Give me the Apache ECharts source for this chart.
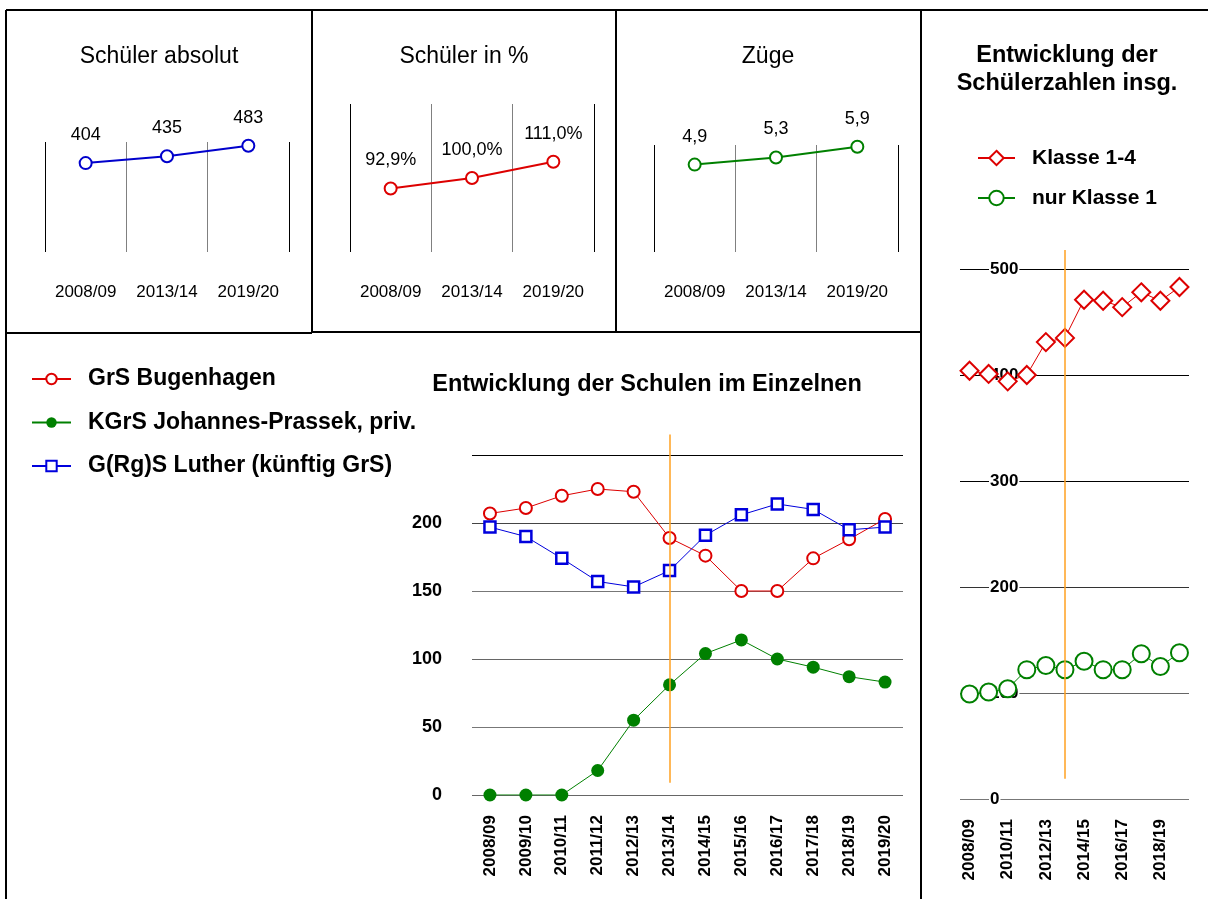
<!DOCTYPE html>
<html>
<head>
<meta charset="utf-8">
<script src="https://cdn.jsdelivr.net/npm/echarts@6/dist/echarts.min.js"></script>
<style>
html,body{margin:0;padding:0;background:#fff;}
#chart{width:1208px;height:899px;}
</style>
</head>
<body>
<div id="chart"></div>
<script>
// ---- data ----
const summaryYears = ['2008/09', '2013/14', '2019/20'];
const schuelerAbsolut = [404, 435, 483];
const schuelerProzent = [92.9, 100.0, 111.0];
const zuege = [4.9, 5.3, 5.9];

const years = ['2008/09','2009/10','2010/11','2011/12','2012/13','2013/14','2014/15','2015/16','2016/17','2017/18','2018/19','2019/20'];
const bugenhagen = [207, 211, 220, 225, 223, 189, 176, 150, 150, 174, 188, 203];
const prassek = [0, 0, 0, 18, 55, 81, 104, 114, 100, 94, 87, 83];
const luther = [197, 190, 174, 157, 153, 165, 191, 206, 214, 210, 195, 197];

const klasse14 = [404, 401, 394, 400, 431, 435, 471, 470, 464, 478, 470, 483];
const klasse1 = [99, 101, 104, 122, 126, 122, 130, 122, 122, 137, 125, 138];

const markerYear = '2013/14';
const markerSchulen = [9, 265];
const markerGesamt = [19, 518];

const seriesNames = ['GrS Bugenhagen', 'KGrS Johannes-Prassek, priv.', 'G(Rg)S Luther (künftig GrS)'];
const totalNames = ['Klasse 1-4', 'nur Klasse 1'];

// ---- styling ----
const FONT = '"Liberation Sans", Arial, sans-serif';
const RED = '#dd0000', GREEN = '#008000', BLUE = '#0000dd', ORANGE = '#ffa020';
const de = (v, d) => v.toFixed(d).replace('.', ',');

const chart = echarts.init(document.getElementById('chart'), null, {renderer: 'canvas'});

function topX(i) {
  return {
    type: 'category', gridIndex: i, data: summaryYears, boundaryGap: true,
    axisLine: {show: false}, axisTick: {show: false},
    axisLabel: {margin: 32, fontSize: 17, color: '#000', fontFamily: FONT},
    splitLine: {show: true, lineStyle: {color: ['#000', '#808080', '#808080', '#000'], width: 1}}
  };
}
function topY(i, min, max) {
  return {type: 'value', gridIndex: i, min: min, max: max, show: false, splitLine: {show: false}};
}
function topSeries(i, data, color, fmt) {
  return {
    type: 'line', xAxisIndex: i, yAxisIndex: i, data: data,
    symbol: 'circle', symbolSize: 12, showAllSymbol: true,
    itemStyle: {color: '#fff', borderColor: color, borderWidth: 2},
    lineStyle: {color: color, width: 2},
    label: {show: true, position: 'top', distance: 12, fontSize: 18, color: '#000', fontFamily: FONT, formatter: p => fmt(p.value)},
    z: 3
  };
}
const border = (x1, y1, x2, y2) => ({type: 'line', shape: {x1, y1, x2, y2}, style: {stroke: '#000', lineWidth: 2}, silent: true});

const option = {
  animation: false,
  backgroundColor: '#fff',
  textStyle: {fontFamily: FONT},
  title: [
    {text: 'Schüler absolut', left: 159, top: 45, textAlign: 'center', padding: 0, textStyle: {fontSize: 23, fontWeight: 'normal', color: '#000', fontFamily: FONT}},
    {text: 'Schüler in %', left: 464, top: 45, textAlign: 'center', padding: 0, textStyle: {fontSize: 23, fontWeight: 'normal', color: '#000', fontFamily: FONT}},
    {text: 'Züge', left: 768, top: 45, textAlign: 'center', padding: 0, textStyle: {fontSize: 23, fontWeight: 'normal', color: '#000', fontFamily: FONT}},
    {text: 'Entwicklung der\nSchülerzahlen insg.', left: 1067, top: 42, textAlign: 'center', padding: 0, textStyle: {fontSize: 23.5, fontWeight: 'bold', lineHeight: 28, color: '#000', fontFamily: FONT}},
    {text: 'Entwicklung der Schulen im Einzelnen', left: 647, top: 373, textAlign: 'center', padding: 0, textStyle: {fontSize: 23.5, fontWeight: 'bold', color: '#000', fontFamily: FONT}}
  ],
  legend: [
    {
      data: seriesNames, orient: 'vertical', left: 31, top: 367, padding: 0,
      itemWidth: 39, itemHeight: 13, itemGap: 19.5, selectedMode: false,
      textStyle: {fontSize: 23, fontWeight: 'bold', lineHeight: 24, color: '#000', padding: [0, 0, 0, 12], fontFamily: FONT}
    },
    {
      data: totalNames, orient: 'vertical', left: 977, top: 147, padding: 0,
      itemWidth: 37, itemHeight: 18, itemGap: 18, selectedMode: false,
      textStyle: {fontSize: 21, fontWeight: 'bold', lineHeight: 22, color: '#000', padding: [0, 0, 0, 12], fontFamily: FONT}
    }
  ],
  grid: [
    {left: 45, top: 142, width: 244, height: 110},
    {left: 350, top: 104, width: 244, height: 148},
    {left: 654, top: 145, width: 244, height: 107},
    {left: 472, top: 434.6, width: 431, height: 360.4},
    {left: 960, top: 249.9, width: 229, height: 549.1}
  ],
  xAxis: [
    topX(0), topX(1), topX(2),
    {
      type: 'category', gridIndex: 3, data: years, boundaryGap: true,
      axisLine: {show: false}, axisTick: {show: false}, splitLine: {show: false},
      axisLabel: {rotate: 90, interval: 0, margin: 20, fontSize: 17, fontWeight: 'bold', color: '#000', fontFamily: FONT}
    },
    {
      type: 'category', gridIndex: 4, data: years, boundaryGap: true,
      axisLine: {show: false}, axisTick: {show: false}, splitLine: {show: false},
      axisLabel: {rotate: 90, interval: 1, margin: 20, fontSize: 17, fontWeight: 'bold', color: '#000', fontFamily: FONT}
    }
  ],
  yAxis: [
    topY(0, 0, 500), topY(1, 50, 150), topY(2, 0, 6),
    {
      type: 'value', gridIndex: 3, min: 0, max: 265, interval: 50,
      axisLine: {show: false}, axisTick: {show: false},
      axisLabel: {margin: 30, fontSize: 18, fontWeight: 'bold', color: '#000', fontFamily: FONT, showMaxLabel: false,
        formatter: v => (v % 50 === 0 && v <= 200) ? String(v) : ''},
      splitLine: {show: true, showMaxLine: false, lineStyle: {color: ['#666', '#777', '#666', '#777', '#444', '#000', 'rgba(0,0,0,0)'], width: 1}}
    },
    {
      type: 'value', gridIndex: 4, min: 0, max: 518, interval: 100,
      axisLine: {show: false}, axisTick: {show: false},
      axisLabel: {inside: true, margin: 29, fontSize: 17, fontWeight: 'bold', color: '#000', fontFamily: FONT,
        backgroundColor: '#fff', padding: [0, 1], showMaxLabel: false,
        formatter: v => (v % 100 === 0) ? String(v) : ''},
      splitLine: {show: true, showMaxLine: false, lineStyle: {color: ['#777', '#666', '#333', '#000', '#000', '#000', 'rgba(0,0,0,0)'], width: 1}}
    }
  ],
  series: [
    topSeries(0, schuelerAbsolut, '#0000cc', v => String(v)),
    topSeries(1, schuelerProzent, RED, v => de(v, 1) + '%'),
    topSeries(2, zuege, GREEN, v => de(v, 1)),
    {
      name: seriesNames[0], type: 'line', xAxisIndex: 3, yAxisIndex: 3, data: bugenhagen,
      symbol: 'circle', symbolSize: 12, showAllSymbol: true,
      itemStyle: {color: '#fff', borderColor: RED, borderWidth: 2},
      lineStyle: {color: RED, width: 1},
      markLine: {
        silent: true, symbol: 'none', label: {show: false},
        lineStyle: {color: ORANGE, width: 1.5, type: 'solid'},
        data: [[{coord: [markerYear, markerSchulen[0]]}, {coord: [markerYear, markerSchulen[1]]}]]
      }
    },
    {
      name: seriesNames[1], type: 'line', xAxisIndex: 3, yAxisIndex: 3, data: prassek,
      symbol: 'circle', symbolSize: 13, showAllSymbol: true,
      itemStyle: {color: GREEN, borderColor: GREEN, borderWidth: 0},
      lineStyle: {color: GREEN, width: 1}
    },
    {
      name: seriesNames[2], type: 'line', xAxisIndex: 3, yAxisIndex: 3, data: luther,
      symbol: 'rect', symbolSize: 11, showAllSymbol: true,
      itemStyle: {color: '#fff', borderColor: BLUE, borderWidth: 2.5},
      lineStyle: {color: BLUE, width: 1}
    },
    {
      name: totalNames[0], type: 'line', xAxisIndex: 4, yAxisIndex: 4, data: klasse14,
      symbol: 'diamond', symbolSize: 18, showAllSymbol: true,
      itemStyle: {color: '#fff', borderColor: RED, borderWidth: 2},
      lineStyle: {color: RED, width: 1},
      markLine: {
        silent: true, symbol: 'none', label: {show: false},
        lineStyle: {color: ORANGE, width: 1.5, type: 'solid'},
        data: [[{coord: [markerYear, markerGesamt[0]]}, {coord: [markerYear, markerGesamt[1]]}]]
      }
    },
    {
      name: totalNames[1], type: 'line', xAxisIndex: 4, yAxisIndex: 4, data: klasse1,
      symbol: 'circle', symbolSize: 17, showAllSymbol: true,
      itemStyle: {color: '#fff', borderColor: GREEN, borderWidth: 2},
      lineStyle: {color: GREEN, width: 1}
    }
  ],
  graphic: [
    border(6, 10, 1208, 10),
    border(6, 10, 6, 899),
    border(312, 10, 312, 333),
    border(6, 333, 312, 333),
    border(312, 332, 921, 332),
    border(616, 10, 616, 332),
    border(921, 10, 921, 899)
  ]
};
chart.setOption(option);
</script>
</body>
</html>
